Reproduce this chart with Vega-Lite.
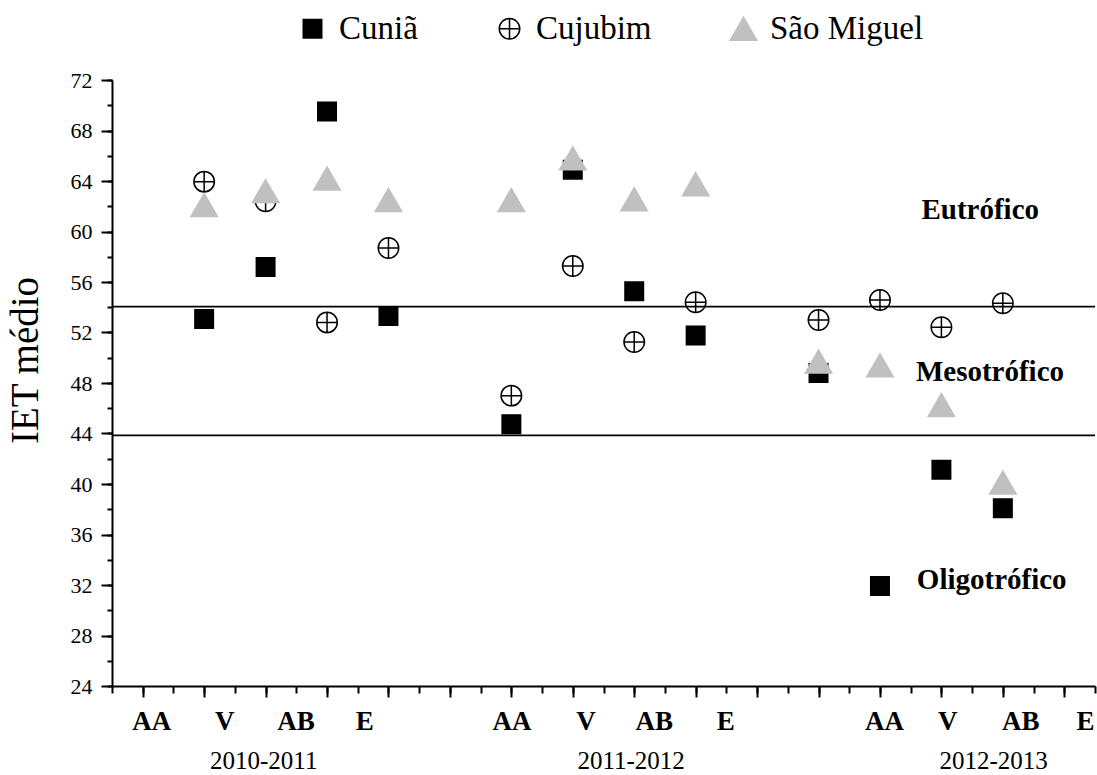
{
  "$schema": "https://vega.github.io/schema/vega-lite/v6.json",
  "width": 983,
  "height": 606,
  "autosize": {"type": "none"},
  "padding": {"left": 112, "top": 80, "right": 2, "bottom": 89},
  "background": "white",
  "config": {"view": {"stroke": null}, "font": "Liberation Serif"},
  "resolve": {"scale": {"x": "independent", "y": "independent"}},
  "layer": [
    {
      "data": {"values": [{"pos": 0, "iet": 24}]},
      "mark": {"type": "point", "opacity": 0},
      "encoding": {
        "x": {
          "field": "pos", "type": "quantitative",
          "scale": {"domain": [0, 32], "nice": false, "zero": false},
          "axis": {
            "orient": "bottom",
            "values": [0,1,2,3,4,5,6,7,8,9,10,11,12,13,14,15,16,17,18,19,20,21,22,23,24,25,26,27,28,29,30,31,32],
            "labels": false, "title": null, "grid": false, "domain": false,
            "tickColor": "black", "tickWidth": 2, "tickSize": 7
          }
        },
        "y": {
          "field": "iet", "type": "quantitative",
          "scale": {"domain": [24, 72], "nice": false, "zero": false},
          "axis": {
            "orient": "left",
            "values": [24,26,28,30,32,34,36,38,40,42,44,46,48,50,52,54,56,58,60,62,64,66,68,70,72],
            "labels": false, "title": null, "grid": false, "domain": false,
            "tickColor": "black", "tickWidth": 2, "tickSize": 5
          }
        }
      }
    },
    {
      "layer": [
        {
          "data": {"values": [
            {"pos": 3, "station": "Cuniã", "iet": 53.07},
            {"pos": 5, "station": "Cuniã", "iet": 57.19},
            {"pos": 7, "station": "Cuniã", "iet": 69.5},
            {"pos": 9, "station": "Cuniã", "iet": 53.3},
            {"pos": 13, "station": "Cuniã", "iet": 44.74},
            {"pos": 15, "station": "Cuniã", "iet": 64.9},
            {"pos": 17, "station": "Cuniã", "iet": 55.26},
            {"pos": 19, "station": "Cuniã", "iet": 51.76},
            {"pos": 23, "station": "Cuniã", "iet": 48.8},
            {"pos": 25, "station": "Cuniã", "iet": 31.92},
            {"pos": 27, "station": "Cuniã", "iet": 41.13},
            {"pos": 29, "station": "Cuniã", "iet": 38.07},
            {"pos": 3, "station": "Cujubim", "iet": 63.95},
            {"pos": 5, "station": "Cujubim", "iet": 62.4},
            {"pos": 7, "station": "Cujubim", "iet": 52.8},
            {"pos": 9, "station": "Cujubim", "iet": 58.7},
            {"pos": 13, "station": "Cujubim", "iet": 47.0},
            {"pos": 15, "station": "Cujubim", "iet": 57.27},
            {"pos": 17, "station": "Cujubim", "iet": 51.25},
            {"pos": 19, "station": "Cujubim", "iet": 54.39},
            {"pos": 23, "station": "Cujubim", "iet": 52.99},
            {"pos": 25, "station": "Cujubim", "iet": 54.57},
            {"pos": 27, "station": "Cujubim", "iet": 52.41},
            {"pos": 29, "station": "Cujubim", "iet": 54.31},
            {"pos": 3, "station": "São Miguel", "iet": 62.1},
            {"pos": 5, "station": "São Miguel", "iet": 63.2},
            {"pos": 7, "station": "São Miguel", "iet": 64.2},
            {"pos": 9, "station": "São Miguel", "iet": 62.5},
            {"pos": 13, "station": "São Miguel", "iet": 62.5},
            {"pos": 15, "station": "São Miguel", "iet": 65.8},
            {"pos": 17, "station": "São Miguel", "iet": 62.56},
            {"pos": 19, "station": "São Miguel", "iet": 63.75},
            {"pos": 23, "station": "São Miguel", "iet": 49.7},
            {"pos": 25, "station": "São Miguel", "iet": 49.4},
            {"pos": 27, "station": "São Miguel", "iet": 46.26},
            {"pos": 29, "station": "São Miguel", "iet": 40.12}
          ]},
          "mark": {"type": "point", "strokeWidth": 1.5, "opacity": 1},
          "encoding": {
            "x": {
              "field": "pos", "type": "quantitative",
              "scale": {"domain": [0, 32], "nice": false, "zero": false},
              "axis": {
                "orient": "bottom",
                "values": [1,3,5,7,9,11,13,15,17,19,21,23,25,27,29,31],
                "labels": false, "title": null, "grid": false,
                "domainColor": "black", "domainWidth": 2,
                "tickColor": "black", "tickWidth": 2, "tickSize": 11
              }
            },
            "y": {
              "field": "iet", "type": "quantitative",
              "scale": {"domain": [24, 72], "nice": false, "zero": false},
              "axis": {
                "orient": "left",
                "values": [24,28,32,36,40,44,48,52,56,60,64,68,72],
                "labelOverlap": false, "labelFlush": false,
                "labelFont": "Liberation Serif", "labelFontSize": 22, "labelColor": "black",
                "labelPadding": 9,
                "grid": false,
                "domainColor": "black", "domainWidth": 2,
                "tickColor": "black", "tickWidth": 2, "tickSize": 11,
                "title": "IET médio", "titleFont": "Liberation Serif", "titleFontSize": 39,
                "titleFontWeight": "normal", "titleColor": "black", "titlePadding": 25,
                "titleY": 280
              }
            },
            "shape": {
              "field": "station", "type": "nominal",
              "scale": {"domain": ["Cuniã", "Cujubim", "São Miguel"], "range": ["square", "M-1,0A1,1,0,1,1,1,0A1,1,0,1,1,-1,0ZM-1,0L1,0M0,-1L0,1", "triangle-up"]},
              "legend": {
                "orient": "none", "legendX": 184, "legendY": -68, "direction": "horizontal",
                "title": null, "labelFont": "Liberation Serif", "labelFontSize": 33, "labelColor": "black",
                "labelOffset": 10, "columnPadding": 75, "symbolStrokeWidth": 1.5, "labelLimit": 400
              }
            },
            "fill": {
              "field": "station", "type": "nominal",
              "scale": {"domain": ["Cuniã", "Cujubim", "São Miguel"], "range": ["black", "transparent", "#c0c0c0"]}
            },
            "stroke": {
              "field": "station", "type": "nominal",
              "scale": {"domain": ["Cuniã", "Cujubim", "São Miguel"], "range": ["black", "black", "#c0c0c0"]}
            },
            "size": {
              "field": "station", "type": "nominal",
              "scale": {"type": "ordinal", "domain": ["Cuniã", "Cujubim", "São Miguel"], "range": [342, 420, 702]}
            }
          }
        },
        {
          "data": {"values": [{"iet": 54.05}, {"iet": 43.85}]},
          "mark": {"type": "rule", "color": "black", "strokeWidth": 1.6},
          "encoding": {
            "y": {"field": "iet", "type": "quantitative"}
          }
        },
        {
          "data": {"values": [
            {"pos": 1.29, "season": "AA"}, {"pos": 3.67, "season": "V"}, {"pos": 5.99, "season": "AB"}, {"pos": 8.23, "season": "E"},
            {"pos": 13.02, "season": "AA"}, {"pos": 15.43, "season": "V"}, {"pos": 17.65, "season": "AB"}, {"pos": 19.98, "season": "E"},
            {"pos": 25.15, "season": "AA"}, {"pos": 27.21, "season": "V"}, {"pos": 29.58, "season": "AB"}, {"pos": 31.69, "season": "E"}
          ]},
          "mark": {"type": "text", "font": "Liberation Serif", "fontSize": 27, "fontWeight": "bold", "color": "black", "align": "center", "baseline": "alphabetic"},
          "encoding": {
            "x": {"field": "pos", "type": "quantitative"},
            "y": {"datum": 20.5},
            "text": {"field": "season"}
          }
        },
        {
          "data": {"values": [
            {"pos": 4.94, "year": "2010-2011"}, {"pos": 16.9, "year": "2011-2012"}, {"pos": 28.7, "year": "2012-2013"}
          ]},
          "mark": {"type": "text", "font": "Liberation Serif", "fontSize": 25, "color": "black", "align": "center", "baseline": "alphabetic"},
          "encoding": {
            "x": {"field": "pos", "type": "quantitative"},
            "y": {"datum": 17.45},
            "text": {"field": "year"}
          }
        },
        {
          "data": {"values": [
            {"pos": 26.35, "iet": 61.0, "state": "Eutrófico"},
            {"pos": 26.17, "iet": 48.16, "state": "Mesotrófico"},
            {"pos": 26.2, "iet": 31.7, "state": "Oligotrófico"}
          ]},
          "mark": {"type": "text", "font": "Liberation Serif", "fontSize": 29, "fontWeight": "bold", "color": "black", "align": "left", "baseline": "alphabetic"},
          "encoding": {
            "x": {"field": "pos", "type": "quantitative"},
            "y": {"field": "iet", "type": "quantitative"},
            "text": {"field": "state"}
          }
        }
      ]
    }
  ]
}
